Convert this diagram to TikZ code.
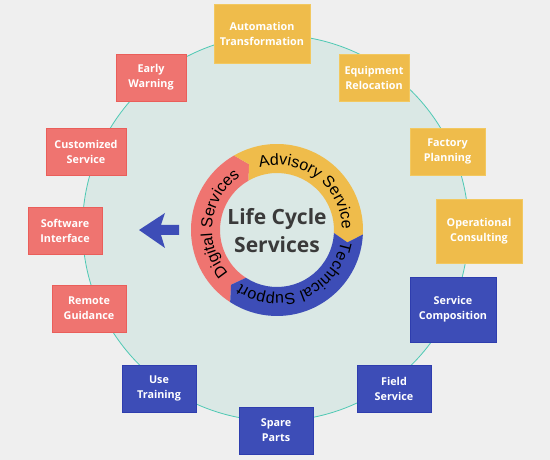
\documentclass[tikz,border=0pt]{standalone}
\usepackage{fontspec}
\setmainfont{Open Sans}
\newfontfamily\boxfam{Open Sans}
\newfontfamily\ringfam{Liberation Sans}
\usetikzlibrary{decorations.text}
\definecolor{bgc}{HTML}{EFEFEF}
\definecolor{circfill}{HTML}{DAE8E5}
\definecolor{circedge}{HTML}{4FC9B4}
\definecolor{redf}{HTML}{EF7470}
\definecolor{redd}{HTML}{EA5E5A}
\definecolor{yelf}{HTML}{EFBC4B}
\definecolor{yeld}{HTML}{F2C860}
\definecolor{bluf}{HTML}{3D4DB7}
\definecolor{blud}{HTML}{2E3DAE}
\definecolor{ctext}{HTML}{3A3A3A}
\tikzset{
  box/.style={draw, line width=0.8pt, text=white, align=center, inner sep=0pt,
    font=\boxfam\bfseries\fontsize{10.8}{15}\selectfont},
  rbox/.style={box, fill=redf, draw=redd},
  ybox/.style={box, fill=yelf, draw=yeld},
  bbox/.style={box, fill=bluf, draw=blud},
  ringtext/.style={decorate, decoration={text along path, text align=center, text={#1}}},
}
\begin{document}
\begin{tikzpicture}[x=1pt,y=1pt]
\useasboundingbox (0,0) rectangle (550,460);
\fill[bgc] (0,0) rectangle (550,460);
\node[circle, minimum size=386pt, inner sep=0pt, fill=circfill, draw=circedge, line width=0.8pt] (bigc) at (275.5,232) {};
% boxes
\node[ybox, minimum width=96pt, minimum height=59pt] (auto) at (262,426.5) {Automation\\Transformation};
\node[rbox, minimum width=70pt, minimum height=47pt] (early) at (151,382.5) {Early\\Warning};
\node[ybox, minimum width=70pt, minimum height=47pt] (equip) at (374,382.5) {Equipment\\Relocation};
\node[rbox, minimum width=80pt, minimum height=47pt] (cust) at (86,308.5) {Customized\\Service};
\node[ybox, minimum width=75pt, minimum height=47pt] (fact) at (447.5,308.5) {Factory\\Planning};
\node[rbox, minimum width=74pt, minimum height=47pt] (soft) at (65,229.5) {Software\\Interface};
\node[ybox, minimum width=86pt, minimum height=64pt] (oper) at (479,229) {Operational\\Consulting};
\node[rbox, minimum width=74pt, minimum height=47pt] (remote) at (89,151.5) {Remote\\Guidance};
\node[bbox, minimum width=86pt, minimum height=65pt] (comp) at (453,150.5) {Service\\Composition};
\node[bbox, minimum width=74pt, minimum height=47pt] (train) at (159,71.5) {Use\\Training};
\node[bbox, minimum width=74pt, minimum height=47pt] (field) at (394,71.5) {Field\\Service};
\node[bbox, minimum width=74pt, minimum height=47pt] (spare) at (276,29.5) {Spare\\Parts};
% ring
\begin{scope}[shift={(277,230)}]
\def\Ro{86}\def\Ri{57}\def\Rm{71.5}
\fill[redf] (237:\Ro) arc[start angle=237, end angle=120, radius=\Ro] -- (113:\Rm) -- (120:\Ri)
  arc[start angle=120, end angle=237, radius=\Ri] -- (230:\Rm) -- cycle;
\fill[yelf] (120:\Ro) arc[start angle=120, end angle=-3, radius=\Ro] -- (-10:\Rm) -- (-3:\Ri)
  arc[start angle=-3, end angle=120, radius=\Ri] -- (113:\Rm) -- cycle;
\fill[bluf] (-3:\Ro) arc[start angle=-3, end angle=-123, radius=\Ro] -- (-130:\Rm) -- (-123:\Ri)
  arc[start angle=-123, end angle=-3, radius=\Ri] -- (-10:\Rm) -- cycle;
\path[ringtext={|\ringfam\fontsize{16}{16}\selectfont|Digital Services}] (235:65) arc[start angle=235, end angle=111, radius=65];
\path[ringtext={|\ringfam\fontsize{16}{16}\selectfont|Advisory Service}] (115:65) arc[start angle=115, end angle=-9, radius=65];
\path[ringtext={|\ringfam\fontsize{16}{16}\selectfont|Technical Support}] (-5:65) arc[start angle=-5, end angle=-129, radius=65];
\node[text=ctext, align=center, font=\bfseries\fontsize{21}{28}\selectfont] (center) at (0,-1) {Life Cycle\\Services};
\end{scope}
% arrow
\fill[bluf] (139,230) -- (165,247) -- (161,235) -- (179,235) -- (179,225) -- (161,225) -- (165,212) -- cycle;
\end{tikzpicture}
\end{document}
